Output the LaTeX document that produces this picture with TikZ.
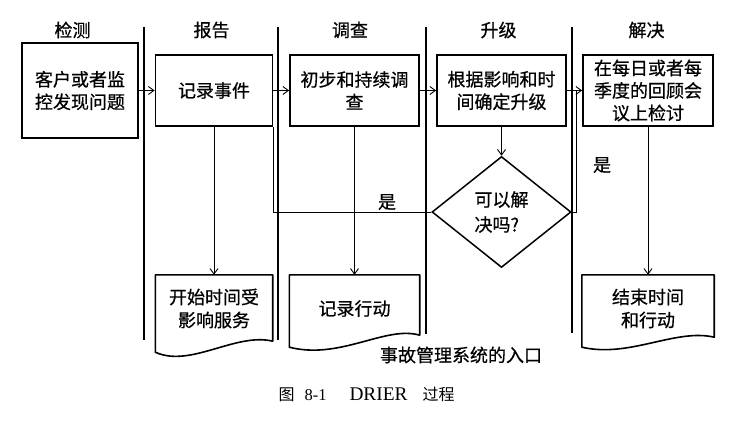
\documentclass[tikz,border=0pt]{standalone}
\usepackage{fontspec}
\usepackage{graphicx}
\setmainfont{Liberation Serif}
\newfontfamily\cjk[FakeBold=0.6]{Noto Sans CJK SC}
\newfontfamily\cjksong{Noto Sans CJK SC}
\usetikzlibrary{shapes.geometric,arrows.meta,calc,positioning}

\begin{document}
\begin{tikzpicture}[x=1pt,y=-1pt]

\tikzstyle{lane} = [inner sep=0pt, font=\cjk\fontsize{18}{22}\selectfont]
\tikzstyle{event} = [rectangle, minimum width=117pt, minimum height=71pt, inner sep=0pt, align=center, text centered, draw=black, line width=1.8pt, font=\cjk\fontsize{18}{22.5}\selectfont]
\tikzstyle{record} = [rectangle, minimum height=67pt, inner sep=0pt, align=center, text centered, font=\cjk\fontsize{18}{23}\selectfont]
\tikzstyle{recline} = [line width=1.6pt, line join=round]
\tikzstyle{decision} = [diamond, aspect=1.25, minimum width=139pt, minimum height=111pt, inner sep=0pt, align=left, draw=black, line width=1.5pt, font=\cjk\fontsize{18}{25}\selectfont]
\tikzstyle{label} = [inner sep=0pt, font=\cjk\fontsize{18}{22}\selectfont]
\tikzstyle{divider} = [line width=1.3pt]
\tikzstyle{flow} = [line width=0.9pt]
\tikzstyle{arrow} = [line width=0.9pt, -{Straight Barb[length=5.5pt,width=8pt]}]

\useasboundingbox (0,0) rectangle (735,422);

% Lane headers
\node (hdetect) [lane] at (72.5,30) {检测};
\node (hreport) [lane] at (211.5,30) {报告};
\node (hprobe) [lane] at (350,30) {调查};
\node (hescalate) [lane] at (498.5,30) {升级};
\node (hresolve) [lane] at (646.5,30) {解决};

% Lane dividers
\foreach \x/\y in {144/340, 278/340, 426/334, 572/333}
  \draw [divider] (\x,27) -- (\x,\y);

% Define nodes
\node (detect) [event, minimum width=116pt, minimum height=95pt] at (80,90.5) {客户或者监\\控发现问题};
\node (report) [event] at (214,90.5) {记录事件};
\node (probe) [event, minimum width=129pt] at (354.5,90.5) {初步和持续调\\查};
\node (escalate) [event, minimum width=129pt] at (501.5,90.5) {根据影响和时\\间确定升级};
\node (review) [event, minimum width=130pt] at (648,90.5) {在每日或者每\\季度的回顾会\\议上检讨};
\node (solved) [decision] at (501.5,212) {可以解\\决吗?};
\node (start) [record, minimum width=117pt] at (214,308.5) {开始时间受\\影响服务};
\node (log) [record, minimum width=130pt] at (354.5,308.5) {记录行动};
\node (close) [record, minimum width=132pt] at (648,308.5) {结束时间\\和行动};
\coordinate (merge) at (576.5,90.5);

% Document outlines
\draw [recline] (start.north west) -- (start.north east) -- ($(start.south east)+(0,-1)$)
  .. controls ($(start.south east)+(-37,-10)$) and ($(start.south west)+(35,26)$) .. ($(start.south west)+(0,10)$) -- cycle;
\draw [recline] (log.north west) -- (log.north east) -- ($(log.south east)+(0,-7)$)
  .. controls ($(log.south east)+(-34,-17)$) and ($(log.south west)+(51,18)$) .. ($(log.south west)+(0,5)$) -- cycle;
\draw [recline] (close.north west) -- (close.north east) -- ($(close.south east)+(0,-5)$)
  .. controls ($(close.south east)+(-39,-14)$) and ($(close.south west)+(48,16)$) .. ($(close.south west)+(0,5)$) -- cycle;

% Texts
\node (yesleft) [label] at (387,202) {是};
\node (yesright) [label] at (602,165) {是};
\node (entry) [label] at (461,355) {事故管理系统的入口};
\node (caption) [inner sep=0pt, font=\cjksong\fontsize{16}{20}\selectfont] at (366.5,394)
  {图\hspace{10pt}\resizebox{22pt}{!}{\rmfamily 8-1}\hspace{23pt}\resizebox{58pt}{!}{\rmfamily DRIER}\hspace{15pt}过程};

% Draw arrows
\draw [arrow] (detect) -- (report);
\draw [arrow] (report) -- (probe);
\draw [arrow] (probe) -- (escalate);
\draw [arrow] (escalate) -- (review);
\draw [arrow] (escalate) -- (solved);
\draw [flow] (solved.west) -| (report.south east);
\draw [flow] (solved.east) -| (merge);
\draw [arrow] (report) -- (start);
\draw [arrow] (probe) -- (log);
\draw [arrow] (review) -- (close);

\end{tikzpicture}
\end{document}
